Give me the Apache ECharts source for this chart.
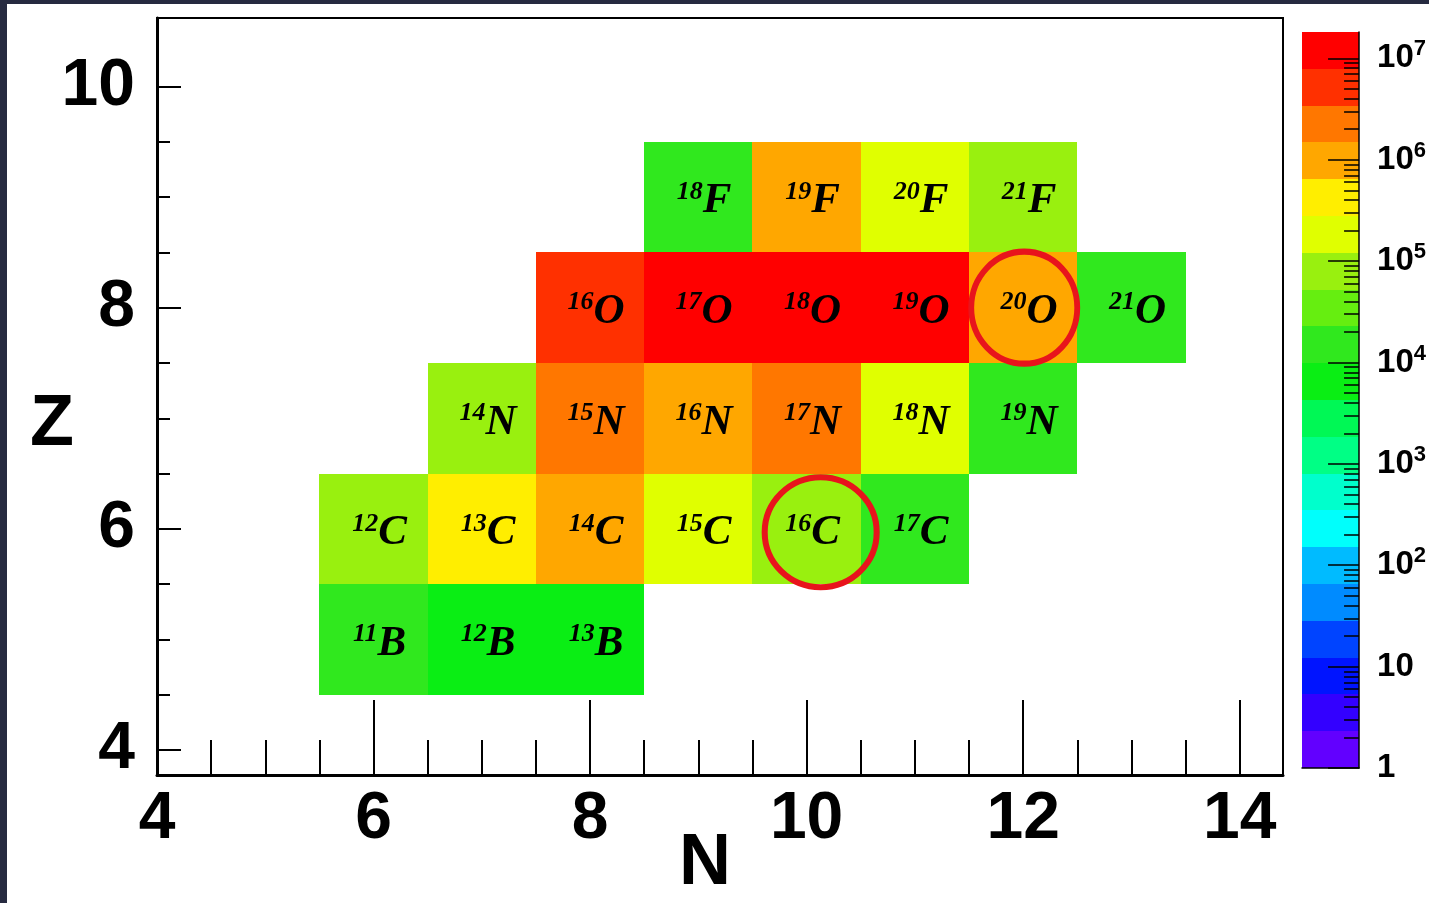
<!DOCTYPE html>
<html>
<head>
<meta charset="utf-8">
<script src="https://cdn.jsdelivr.net/npm/echarts@6/dist/echarts.min.js"></script>
<style>
html,body{margin:0;padding:0;background:#ffffff;}
#c{width:1429px;height:903px;}
</style>
</head>
<body>
<div id="c"></div>
<script>
// ---------------- data ----------------
const elements    = ['B','B','B','C','C','C','C','C','C','N','N','N','N','N','N','O','O','O','O','O','O','F','F','F','F'];
const massNumbers = [11,12,13, 12,13,14,15,16,17, 14,15,16,17,18,19, 16,17,18,19,20,21, 18,19,20,21];
const neutrons    = [6,7,8, 6,7,8,9,10,11, 7,8,9,10,11,12, 8,9,10,11,12,13, 9,10,11,12];
const protons     = [5,5,5, 6,6,6,6,6,6, 7,7,7,7,7,7, 8,8,8,8,8,8, 9,9,9,9];
const counts      = [1.6e4,7e3,6e3, 8e4,4e5,1e6,1.8e5,7e4,1.5e4, 9e4,2.3e6,1.1e6,2.5e6,2e5,1.8e4,
                     5e6,1.2e7,1.4e7,1e7,9e5,1.7e4, 1.9e4,1.2e6,2.2e5,8.5e4];
const highlighted = [[12.01, 8.0], [10.13, 5.97]];

const xMajorTicks = [4,6,8,10,12,14];
const xMinorTicks = [4.5,5,5.5,6.5,7,7.5,8.5,9,9.5,10.5,11,11.5,12.5,13,13.5];
const yMajorTicks = [4,6,8,10];
const yMinorTicks = [4.5,5,5.5,6.5,7,7.5,8.5,9,9.5];
const cbDecades   = [0,1,2,3,4,5,6,7];
const cbMaxExp    = 7.26;

// ROOT-like palette, bottom band to top band
const palette = ['#6200FF','#3300FF','#0014FF','#0044FF','#008BFF','#00BBFF','#00FFFC','#00FFCC','#00FF85','#00F855',
                 '#0AEE14','#30E81E','#66EE10','#99F00F','#E0FF00','#FFEE00','#FFA700','#FF7700','#FF3000','#FF0000'];

// ---------------- derived tables ----------------
const nBands = palette.length;
const bw = cbMaxExp / nBands;
const cellData = neutrons.map((n, i) => [n, protons[i], Math.log10(counts[i])]);
const bandData = palette.map((c, k) => [k * bw, (k + 1) * bw, (k + 0.5) * bw]);
const cbMinor = [];
cbDecades.forEach(d => { for (let m = 2; m <= 9; m++) { const v = d + Math.log10(m); if (v < cbMaxExp) cbMinor.push(v); } });

const serif = 'Liberation Serif';
const sans = 'Liberation Sans';

const chart = echarts.init(document.getElementById('c'), null, {renderer: 'canvas'});

const option = {
  backgroundColor: '#ffffff',
  animation: false,
  grid: [
    {left: 157, right: 146, top: 18, bottom: 128, show: true, borderColor: '#000', borderWidth: 2, backgroundColor: '#fff'},
    {left: 1302, width: 58, top: 32, bottom: 135}
  ],
  xAxis: [
    {gridIndex: 0, type: 'value', min: 4, max: 14.4, position: 'bottom',
     axisLine: {show: true, onZero: false, lineStyle: {color: '#000', width: 3}},
     axisTick: {show: true, inside: true, length: 75, customValues: xMajorTicks, lineStyle: {color: '#000', width: 2}},
     axisLabel: {customValues: xMajorTicks, fontFamily: sans, fontWeight: 'bold', fontSize: 66, color: '#000', margin: 12},
     splitLine: {show: false}},
    {gridIndex: 0, type: 'value', min: 4, max: 14.4, position: 'bottom',
     axisLine: {show: false, onZero: false},
     axisTick: {show: true, inside: true, length: 35, customValues: xMinorTicks, lineStyle: {color: '#000', width: 2}},
     axisLabel: {show: false}, splitLine: {show: false}},
    {gridIndex: 1, type: 'value', min: 0, max: 1, position: 'bottom', z: 10,
     axisLine: {show: true, onZero: false, lineStyle: {color: '#000', width: 1.5}},
     axisTick: {show: false}, axisLabel: {show: false}, splitLine: {show: false}}
  ],
  yAxis: [
    {gridIndex: 0, type: 'value', min: 3.774, max: 10.62, position: 'left',
     axisLine: {show: true, onZero: false, lineStyle: {color: '#000', width: 3}},
     axisTick: {show: true, inside: true, length: 24, customValues: yMajorTicks, lineStyle: {color: '#000', width: 2}},
     axisLabel: {customValues: yMajorTicks, fontFamily: sans, fontWeight: 'bold', fontSize: 66, color: '#000', margin: 22},
     splitLine: {show: false}},
    {gridIndex: 0, type: 'value', min: 3.774, max: 10.62, position: 'left',
     axisLine: {show: false, onZero: false},
     axisTick: {show: true, inside: true, length: 13, customValues: yMinorTicks, lineStyle: {color: '#000', width: 2}},
     axisLabel: {show: false}, splitLine: {show: false}},
    {gridIndex: 1, type: 'value', min: 0, max: cbMaxExp, position: 'right', z: 10,
     axisLine: {show: true, onZero: false, lineStyle: {color: '#000', width: 1.5}},
     axisTick: {show: true, inside: true, length: 31, customValues: cbDecades, lineStyle: {color: '#000', width: 1.5}},
     axisLabel: {
       customValues: cbDecades, margin: 18, align: 'left',
       formatter: function (v) {
         const d = Math.round(v);
         if (d === 0) return '{b|1}';
         if (d === 1) return '{b|10}';
         return '{b|10}{s|' + d + '}';
       },
       rich: {
         b: {fontFamily: sans, fontWeight: 'bold', fontSize: 33, color: '#000', lineHeight: 40},
         s: {fontFamily: sans, fontWeight: 'bold', fontSize: 22, color: '#000', lineHeight: 22, verticalAlign: 'top'}
       }
     },
     splitLine: {show: false}},
    {gridIndex: 1, type: 'value', min: 0, max: cbMaxExp, position: 'right', z: 10,
     axisLine: {show: false, onZero: false},
     axisTick: {show: true, inside: true, length: 15, customValues: cbMinor, lineStyle: {color: '#000', width: 1.5}},
     axisLabel: {show: false}, splitLine: {show: false}}
  ],
  visualMap: {
    type: 'piecewise', show: false, dimension: 2, seriesIndex: [0, 1],
    pieces: palette.map((c, k) => ({gte: k * bw, lt: (k + 1) * bw, color: c}))
  },
  series: [
    {
      type: 'custom', name: 'yield', xAxisIndex: 0, yAxisIndex: 0, data: cellData, silent: true,
      renderItem: function (params, api) {
        const n = api.value(0), z = api.value(1);
        const a = api.coord([n - 0.5, z + 0.5]);
        const b = api.coord([n + 0.5, z - 0.5]);
        const x0 = Math.round(a[0]), y0 = Math.round(a[1]), x1 = Math.round(b[0]), y1 = Math.round(b[1]);
        const i = params.dataIndex;
        return {
          type: 'group',
          children: [
            {type: 'rect', shape: {x: x0, y: y0, width: x1 - x0, height: y1 - y0}, style: {fill: api.visual('color')}},
            {type: 'text', x: (x0 + x1) / 2 + 6, y: (y0 + y1) / 2 + 4,
             style: {
               text: '{m|' + massNumbers[i] + '}{e|' + elements[i] + '}',
               align: 'center', verticalAlign: 'middle',
               rich: {
                 m: {fontFamily: serif, fontStyle: 'italic', fontWeight: 'bold', fontSize: 26, fill: '#000', lineHeight: 30, verticalAlign: 'top'},
                 e: {fontFamily: serif, fontStyle: 'italic', fontWeight: 'bold', fontSize: 43, fill: '#000', lineHeight: 44}
               }
             }}
          ]
        };
      }
    },
    {
      type: 'custom', name: 'colorbar', xAxisIndex: 2, yAxisIndex: 2, data: bandData, silent: true, z: 1,
      renderItem: function (params, api) {
        const lo = api.value(0), hi = api.value(1);
        const a = api.coord([0, hi]);
        const b = api.coord([1, lo]);
        const x0 = Math.round(a[0]), y0 = Math.round(a[1]), x1 = Math.round(b[0]), y1 = Math.round(b[1]);
        return {type: 'rect', shape: {x: x0, y: y0, width: x1 - x0, height: y1 - y0}, style: {fill: api.visual('color')}};
      }
    },
    {
      type: 'scatter', name: 'highlight', xAxisIndex: 0, yAxisIndex: 0, silent: true, z: 10,
      data: highlighted,
      symbol: 'circle',
      symbolSize: function (v, p) { return p.dataIndex === 0 ? [106, 112] : [112, 110]; },
      itemStyle: {color: 'rgba(0,0,0,0)', borderColor: '#e8141c', borderWidth: 6, opacity: 1}
    }
  ],
  graphic: [
    {type: 'rect', left: 0, top: 0, shape: {width: 7, height: 903}, style: {fill: '#262a40'}, z: 100},
    {type: 'rect', left: 0, top: 0, shape: {width: 1429, height: 4}, style: {fill: '#262a40'}, z: 100},
    {type: 'text', x: 52, y: 425, style: {text: 'Z', fontFamily: sans, fontWeight: 'bold', fontSize: 72, fill: '#000', align: 'center', verticalAlign: 'middle'}},
    {type: 'text', x: 705, y: 864, style: {text: 'N', fontFamily: sans, fontWeight: 'bold', fontSize: 72, fill: '#000', align: 'center', verticalAlign: 'middle'}}
  ]
};
chart.setOption(option);
</script>
</body>
</html>
